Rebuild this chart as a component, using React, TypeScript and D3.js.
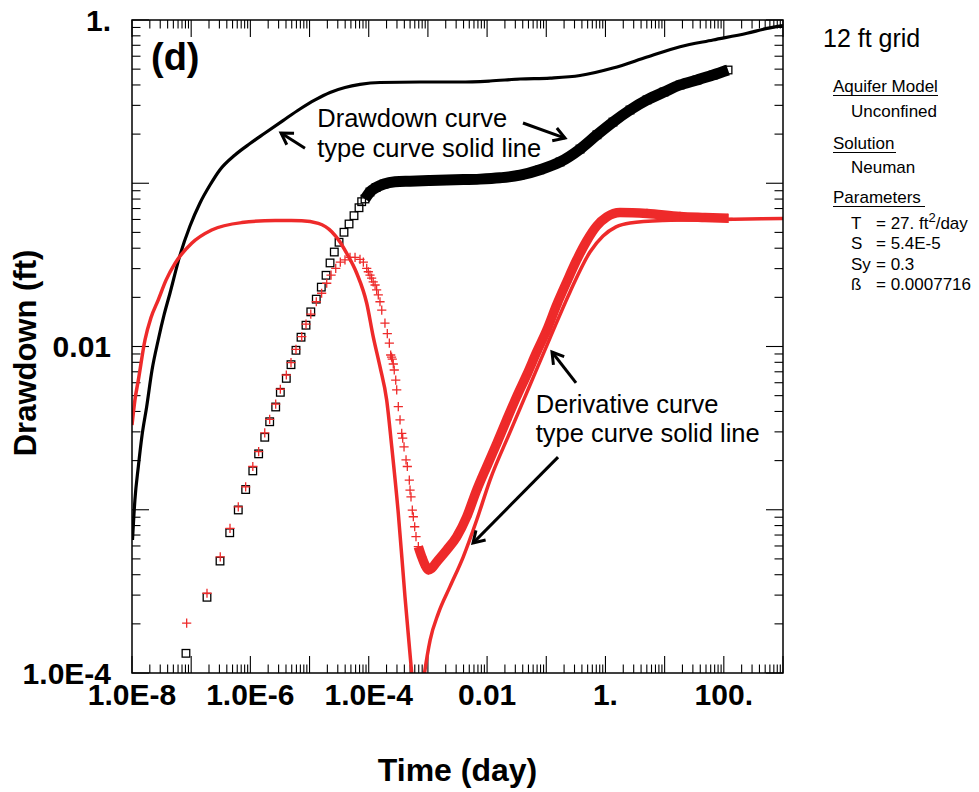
import React from 'react';
import * as d3 from 'd3';

// ---------- axis ticks ----------
const xTickValues = [1e-8, 1e-6, 1e-4, 1e-2, 1, 100];
const xTickLabels = ['1.0E-8', '1.0E-6', '1.0E-4', '0.01', '1.', '100.'];
const yTickValues = [1, 1e-2, 1e-4];
const yTickLabels = ['1.', '0.01', '1.0E-4'];

// ---------- observed drawdown (squares), early discrete points ----------
const drawdownObsTime = [8.16e-8, 1.85e-7, 3.07e-7, 4.48e-7, 6.25e-7, 8.33e-7, 1.10e-6, 1.38e-6, 1.75e-6, 2.12e-6, 2.68e-6, 3.21e-6, 4.05e-6, 4.86e-6, 5.90e-6, 7.18e-6, 8.71e-6, 1.05e-5, 1.30e-5, 1.58e-5, 1.90e-5, 2.22e-5, 2.62e-5, 3.15e-5, 3.82e-5, 4.65e-5, 5.64e-5, 6.85e-5, 7.60e-5];
const drawdownObsValue = [1.32e-4, 2.91e-4, 4.85e-4, 7.23e-4, 9.97e-4, 1.33e-3, 1.73e-3, 2.20e-3, 2.78e-3, 3.46e-3, 4.26e-3, 5.24e-3, 6.38e-3, 7.74e-3, 9.48e-3, 1.14e-2, 1.35e-2, 1.63e-2, 1.95e-2, 2.31e-2, 2.73e-2, 3.25e-2, 3.79e-2, 4.35e-2, 5.01e-2, 5.63e-2, 6.33e-2, 7.08e-2, 7.71e-2];

// observed drawdown, late dense part (markers merge into a band)
const drawdownDenseTime = [8.65e-5, 1.05e-4, 1.33e-4, 1.81e-4, 2.78e-4, 4.99e-4, 1.09e-3, 2.87e-3, 7.59e-3, 1.65e-2, 3.60e-2, 7.83e-2, 0.171, 0.372, 0.719, 1.34, 2.60, 5.04, 9.77, 18.2, 35.2, 65.8, 118];
const drawdownDenseValue = [8.01e-2, 8.84e-2, 9.42e-2, 9.89e-2, 0.102, 0.103, 0.104, 0.105, 0.106, 0.108, 0.112, 0.121, 0.135, 0.162, 0.198, 0.237, 0.281, 0.324, 0.362, 0.400, 0.429, 0.460, 0.494];

// ---------- observed derivative (crosses), discrete points ----------
const derivObsTime = [8.39e-8, 1.85e-7, 3.10e-7, 4.53e-7, 6.25e-7, 8.33e-7, 1.10e-6, 1.38e-6, 1.75e-6, 2.12e-6, 2.68e-6, 3.21e-6, 4.05e-6, 4.86e-6, 5.90e-6, 7.38e-6, 8.71e-6, 1.05e-5, 1.30e-5, 1.60e-5, 1.95e-5, 2.31e-5, 2.77e-5, 3.31e-5, 3.97e-5, 4.83e-5, 5.87e-5, 7.12e-5, 8.11e-5,
  9.25e-5, 9.84e-5, 1.05e-4, 1.12e-4, 1.19e-4, 1.28e-4, 1.36e-4, 1.45e-4, 1.55e-4, 1.66e-4, 1.88e-4, 2.06e-4, 2.23e-4, 2.35e-4, 2.43e-4, 2.50e-4, 2.60e-4, 2.70e-4, 2.86e-4, 2.97e-4, 3.16e-4, 3.38e-4, 3.61e-4, 3.75e-4, 3.95e-4, 4.27e-4, 4.49e-4, 4.85e-4, 4.99e-4, 5.18e-4, 5.45e-4, 5.67e-4, 5.98e-4, 6.29e-4];
const derivObsValue = [2.02e-4, 3.08e-4, 5.15e-4, 7.69e-4, 1.04e-3, 1.38e-3, 1.84e-3, 2.27e-3, 2.96e-3, 3.58e-3, 4.44e-3, 5.47e-3, 6.69e-3, 7.96e-3, 9.61e-3, 1.15e-2, 1.37e-2, 1.58e-2, 1.88e-2, 2.12e-2, 2.44e-2, 2.74e-2, 3.01e-2, 3.29e-2, 3.39e-2, 3.52e-2, 3.52e-2, 3.42e-2, 3.29e-2,
  3.01e-2, 2.87e-2, 2.74e-2, 2.62e-2, 2.49e-2, 2.38e-2, 2.22e-2, 2.07e-2, 1.88e-2, 1.67e-2, 1.39e-2, 1.20e-2, 1.05e-2, 8.87e-3, 8.62e-3, 8.38e-3, 7.81e-3, 7.18e-3, 6.23e-3, 5.42e-3, 4.28e-3, 3.55e-3, 2.94e-3, 2.75e-3, 2.43e-3, 2.02e-3, 1.84e-3, 1.52e-3, 1.32e-3, 1.20e-3, 9.96e-4, 9.06e-4, 7.87e-4, 6.84e-4];

// observed derivative, dense part (markers merge into a band)
const derivDenseTime = [6.89e-4, 7.86e-4, 8.93e-4, 1.02e-3, 1.16e-3, 1.41e-3, 2.08e-3, 3.07e-3, 4.53e-3, 6.68e-3, 9.86e-3, 1.46e-2, 2.14e-2, 3.16e-2, 4.67e-2, 6.89e-2, 0.102, 0.150, 0.221, 0.327, 0.482, 0.711, 1.05, 1.76, 5.04, 18.2, 48.1, 118];
const derivDenseValue = [5.94e-4, 5.15e-4, 4.59e-4, 4.28e-4, 4.38e-4, 4.79e-4, 5.67e-4, 6.84e-4, 9.06e-4, 1.32e-3, 1.84e-3, 2.55e-3, 3.55e-3, 4.93e-3, 6.69e-3, 9.25e-3, 1.26e-2, 1.80e-2, 2.48e-2, 3.39e-2, 4.43e-2, 5.47e-2, 6.21e-2, 6.62e-2, 6.53e-2, 6.26e-2, 6.17e-2, 6.10e-2];

// ---------- Neuman type curves ----------
const typeDrawdownTime = [1.02e-8, 1.12e-8, 1.28e-8, 1.48e-8, 1.77e-8, 2.18e-8, 2.78e-8, 3.48e-8, 4.38e-8, 6.47e-8, 9.55e-8, 1.41e-7, 2.08e-7, 3.07e-7, 5.50e-7, 9.86e-7, 1.77e-6, 3.56e-6, 6.90e-6, 1.24e-5, 2.22e-5, 3.97e-5, 7.12e-5, 1.55e-4, 7.35e-4, 3.48e-3, 1.12e-2, 3.60e-2, 0.116, 0.372, 1.34, 5.04, 18.2, 65.8, 247, 537, 1000];
const typeDrawdownValue = [6.53e-4, 1.15e-3, 1.84e-3, 2.87e-3, 4.28e-3, 7.18e-3, 1.10e-2, 1.56e-2, 2.12e-2, 3.63e-2, 5.47e-2, 7.57e-2, 9.75e-2, 0.121, 0.149, 0.175, 0.203, 0.242, 0.285, 0.324, 0.360, 0.386, 0.403, 0.414, 0.417, 0.417, 0.423, 0.435, 0.441, 0.457, 0.508, 0.593, 0.686, 0.754, 0.829, 0.889, 0.925];

const typeDerivTime = [1.0e-8, 1.12e-8, 1.28e-8, 1.66e-8, 2.09e-8, 2.78e-8, 3.76e-8, 5.33e-8, 1.02e-7, 2.22e-7, 7.14e-7, 2.61e-6, 7.38e-6, 1.41e-5, 2.37e-5, 3.27e-5, 4.25e-5, 6.27e-5, 9.25e-5, 1.19e-4, 1.55e-4, 2.01e-4, 2.45e-4, 3.16e-4, 4.10e-4, 5.32e-4, 5.82e-4, 7.63e-4, 8.77e-4, 1.09e-3, 1.50e-3, 2.36e-3, 3.96e-3, 6.68e-3, 1.12e-2, 2.44e-2, 5.31e-2, 0.116, 0.252, 0.548, 0.910, 1.51, 2.60, 9.40, 86.3, 1000];
const typeDerivValue = [3.30e-3, 4.70e-3, 6.23e-3, 1.10e-2, 1.50e-2, 1.93e-2, 2.55e-2, 3.23e-2, 4.29e-2, 5.17e-2, 5.74e-2, 5.91e-2, 5.90e-2, 5.68e-2, 5.05e-2, 4.37e-2, 3.72e-2, 2.81e-2, 1.84e-2, 1.15e-2, 7.52e-3, 4.70e-3, 2.43e-3, 9.51e-4, 2.93e-4, 1.0e-4, 6.84e-5, 6.84e-5, 1.0e-4, 1.59e-4, 2.32e-4, 3.38e-4, 5.15e-4, 8.65e-4, 1.52e-3, 2.99e-3, 5.81e-3, 1.13e-2, 2.16e-2, 3.79e-2, 4.75e-2, 5.40e-2, 5.71e-2, 5.91e-2, 6.00e-2, 6.08e-2];

// ---------- annotations (in data units) ----------
const drawdownNoteLines = ['Drawdown curve', 'type curve solid line'];
const drawdownNoteAt = [1.35e-5, 0.221];
const derivNoteLines = ['Derivative curve', 'type curve solid line'];
const derivNoteAt = [6.64e-2, 3.93e-3];
// arrows: [tailT, tailS, headT, headS]
const arrowList = [
  [8.37e-6, 0.164, 3.30e-6, 0.203],
  [4.04e-2, 0.234, 0.207, 0.189],
  [0.318, 5.98e-3, 0.125, 9.25e-3],
  [0.158, 2.10e-3, 5.78e-3, 6.25e-4],
];

// ---------- side panel ----------
const panelTitle = '12 ft grid';
const paramNames = ['T', 'S', 'Sy', 'ß'];
const paramValues = ['= 27. ft', '= 5.4E-5', '= 0.3', '= 0.0007716'];

const W = 979, H = 792;
const M = { left: 132, right: 783, top: 20, bottom: 673 };
const FONT = "'Liberation Sans', Arial, Helvetica, sans-serif";
const RED = '#ee2a2a';

export default function App() {
  const x = d3.scaleLog().domain([1e-8, 1e3]).range([M.left, M.right]);
  const y = d3.scaleLog().domain([1e-4, 1]).range([M.bottom, M.top]);

  const mkLine = (ts: number[], vs: number[], curve: any) =>
    d3.line<number>().x((i) => x(ts[i])).y((i) => y(vs[i])).curve(curve)(ts.map((_, i) => i)) || '';

  const xMajor = d3.range(-8, 4).map((e) => Math.pow(10, e));
  const xMinor: number[] = [];
  d3.range(-8, 3).forEach((e) => d3.range(2, 10).forEach((m) => xMinor.push(m * Math.pow(10, e))));
  const yMajor = d3.range(-4, 1).map((e) => Math.pow(10, e));
  const yMinor: number[] = [];
  d3.range(-4, 0).forEach((e) => d3.range(2, 10).forEach((m) => yMinor.push(m * Math.pow(10, e))));

  const MAJ = 17, MIN = 8.5;

  const square = (cx: number, cy: number, k: string) => (
    <rect key={k} x={cx - 3.8} y={cy - 3.8} width={7.6} height={7.6} fill="none" stroke="#000" strokeWidth={1.3} />
  );
  const cross = (cx: number, cy: number, k: string) => (
    <path key={k} d={`M${cx - 4.6},${cy}H${cx + 4.6}M${cx},${cy - 4.6}V${cy + 4.6}`} stroke={RED} strokeWidth={1.3} fill="none" />
  );

  const arrow = (a: number[], k: number) => {
    const x1 = x(a[0]), y1 = y(a[1]), x2 = x(a[2]), y2 = y(a[3]);
    const ang = Math.atan2(y2 - y1, x2 - x1);
    const L = 13, sp = 0.55;
    const ax = x2 - L * Math.cos(ang - sp), ay = y2 - L * Math.sin(ang - sp);
    const bx = x2 - L * Math.cos(ang + sp), by = y2 - L * Math.sin(ang + sp);
    return (
      <g key={k} stroke="#000" strokeWidth={3} fill="none" strokeLinecap="butt" strokeLinejoin="miter">
        <line x1={x1} y1={y1} x2={x2} y2={y2} />
        <path d={`M${ax},${ay}L${x2},${y2}L${bx},${by}`} />
      </g>
    );
  };

  return (
    <svg width={W} height={H} style={{ position: 'absolute', left: 0, top: 0, background: '#fff' }} fontFamily={FONT}>
      <defs>
        <clipPath id="plotClip">
          <rect x={M.left} y={M.top} width={M.right - M.left} height={M.bottom - M.top} />
        </clipPath>
      </defs>
      <rect x={0} y={0} width={W} height={H} fill="#fff" />

      {/* ticks */}
      <g stroke="#000" strokeWidth={1.1}>
        {xMajor.map((v, i) => (
          <g key={'xM' + i}>
            <line x1={x(v)} x2={x(v)} y1={M.bottom} y2={M.bottom - MAJ} />
            <line x1={x(v)} x2={x(v)} y1={M.top} y2={M.top + MAJ} />
          </g>
        ))}
        {xMinor.map((v, i) => (
          <g key={'xm' + i}>
            <line x1={x(v)} x2={x(v)} y1={M.bottom} y2={M.bottom - MIN} />
            <line x1={x(v)} x2={x(v)} y1={M.top} y2={M.top + MIN} />
          </g>
        ))}
        {yMajor.map((v, i) => (
          <g key={'yM' + i}>
            <line x1={M.left} x2={M.left + MAJ} y1={y(v)} y2={y(v)} />
            <line x1={M.right} x2={M.right - MAJ} y1={y(v)} y2={y(v)} />
          </g>
        ))}
        {yMinor.map((v, i) => (
          <g key={'ym' + i}>
            <line x1={M.left} x2={M.left + MIN} y1={y(v)} y2={y(v)} />
            <line x1={M.right} x2={M.right - MIN} y1={y(v)} y2={y(v)} />
          </g>
        ))}
      </g>

      <g clipPath="url(#plotClip)">
        {/* type curves */}
        <path d={mkLine(typeDrawdownTime, typeDrawdownValue, d3.curveMonotoneX)} fill="none" stroke="#000" strokeWidth={3.2} />
        {/* observed drawdown */}
        {drawdownObsTime.map((t, i) => square(x(t), y(drawdownObsValue[i]), 'ds' + i))}
        <path d={mkLine(drawdownDenseTime, drawdownDenseValue, d3.curveMonotoneX)} fill="none" stroke="#000" strokeWidth={11} strokeLinejoin="round" />
        {drawdownDenseTime.map((t, i) => square(x(t), y(drawdownDenseValue[i]), 'dd' + i))}

        <path d={mkLine(typeDerivTime, typeDerivValue, d3.curveMonotoneX)} fill="none" stroke={RED} strokeWidth={3.5} />
        {/* observed derivative */}
        {derivObsTime.map((t, i) => cross(x(t), y(derivObsValue[i]), 'dc' + i))}
        <path d={mkLine(derivDenseTime, derivDenseValue, d3.curveMonotoneX)} fill="none" stroke={RED} strokeWidth={9.5} strokeLinejoin="round" />
        {derivDenseTime.map((t, i) => cross(x(t), y(derivDenseValue[i]), 'dD' + i))}
      </g>

      {/* frame */}
      <rect x={M.left} y={M.top} width={M.right - M.left} height={M.bottom - M.top} fill="none" stroke="#000" strokeWidth={1.5} />

      {/* tick labels */}
      <g fontWeight="bold" fontSize={30} fill="#000">
        {xTickValues.map((v, i) => (
          <text key={'xl' + i} x={x(v)} y={705} textAnchor="middle">{xTickLabels[i]}</text>
        ))}
        {yTickValues.map((v, i) => (
          <text key={'yl' + i} x={111} y={y(v) + 10.5} textAnchor="end">{yTickLabels[i]}</text>
        ))}
      </g>

      {/* axis titles */}
      <text x={(M.left + M.right) / 2} y={781} textAnchor="middle" fontWeight="bold" fontSize={32}>Time (day)</text>
      <text transform={`translate(36,353) rotate(-90)`} textAnchor="middle" fontWeight="bold" fontSize={31}>Drawdown (ft)</text>

      {/* panel letter */}
      <text x={151} y={70} fontWeight="bold" fontSize={38}>(d)</text>

      {/* annotations */}
      <g fontSize={25.5} fill="#000">
        {drawdownNoteLines.map((s, i) => (
          <text key={'dn' + i} x={x(drawdownNoteAt[0])} y={y(drawdownNoteAt[1]) + i * 30}>{s}</text>
        ))}
        {derivNoteLines.map((s, i) => (
          <text key={'vn' + i} x={x(derivNoteAt[0])} y={y(derivNoteAt[1]) + i * 29}>{s}</text>
        ))}
      </g>
      {arrowList.map((a, i) => arrow(a, i))}

      {/* side panel */}
      <text x={823} y={47} fontSize={25}>{panelTitle}</text>
      <g fontSize={17} fill="#000">
        <text x={833} y={91.5}>Aquifer Model</text>
        <line x1={833} x2={938} y1={95.5} y2={95.5} stroke="#000" strokeWidth={1.2} />
        <text x={851} y={117}>Unconfined</text>
        <text x={833} y={148.5}>Solution</text>
        <line x1={833} x2={896} y1={152.5} y2={152.5} stroke="#000" strokeWidth={1.2} />
        <text x={851} y={172.5}>Neuman</text>
        <text x={833} y={202.5}>Parameters</text>
        <line x1={833} x2={925} y1={206.5} y2={206.5} stroke="#000" strokeWidth={1.2} />
        {paramNames.map((n, i) => (
          <g key={'p' + i}>
            <text x={851} y={228.5 + i * 20.5}>{n}</text>
            <text x={876} y={228.5 + i * 20.5}>
              {paramValues[i]}
              {i === 0 ? (
                <>
                  <tspan dy={-7} fontSize={13}>2</tspan>
                  <tspan dy={7}>/day</tspan>
                </>
              ) : null}
            </text>
          </g>
        ))}
      </g>
    </svg>
  );
}
